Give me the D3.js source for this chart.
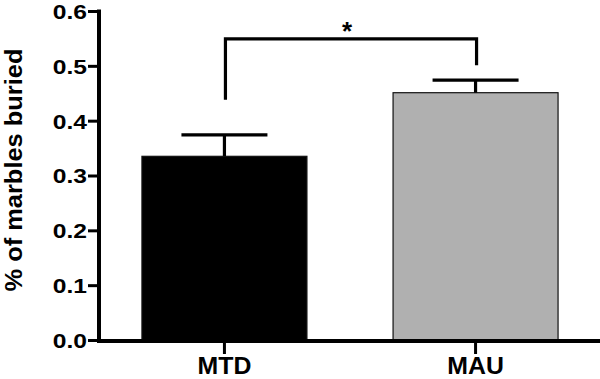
<!DOCTYPE html>
<html>
<head>
<meta charset="utf-8">
<script src="https://cdn.jsdelivr.net/npm/d3@7"></script>
<style>
  html, body { margin: 0; padding: 0; background: #fff; }
  svg { display: block; }
  text { font-family: "Liberation Sans", Arial, sans-serif; font-weight: bold; fill: #000; }
</style>
</head>
<body>
<svg id="chart" width="600" height="379"></svg>
<script>
// ---- data ----
const categories = ["MTD", "MAU"];
const means = [0.335, 0.451];
const sems = [0.039, 0.023];
const barColors = ["#000000", "#b0b0b0"];
const yTicks = [0.0, 0.1, 0.2, 0.3, 0.4, 0.5, 0.6];
const yLabel = "% of marbles buried";
const sigPair = ["MTD", "MAU"];
const sigLevel = 0.549;          // bracket height (data units)
const sigLegEnds = [0.438, 0.501]; // bottom of left / right legs
const sigMark = "*";

// ---- layout ----
const svg = d3.select("#chart");
const x0 = 99, x1 = 601, yBottom = 340, yTop = 11;

const x = d3.scaleBand().domain(categories).range([x0, x1])
  .paddingInner(0.343).paddingOuter(0.171);
const y = d3.scaleLinear().domain([0, 0.6]).range([yBottom, yTop]);

// bars
svg.append("g").selectAll("rect").data(categories).join("rect")
  .attr("x", d => x(d))
  .attr("y", (d, i) => y(means[i]))
  .attr("width", x.bandwidth())
  .attr("height", (d, i) => y(0) - y(means[i]))
  .attr("fill", (d, i) => barColors[i])
  .attr("stroke", "#111")
  .attr("stroke-width", 1.2);

// error bars (upper only)
const eb = svg.append("g").attr("stroke", "#000").attr("stroke-width", 3.2);
categories.forEach((c, i) => {
  const cx = x(c) + x.bandwidth() / 2;
  const top = y(means[i] + sems[i]);
  eb.append("line").attr("x1", cx).attr("x2", cx)
    .attr("y1", top).attr("y2", y(means[i]));
  eb.append("line").attr("x1", cx - 43).attr("x2", cx + 43)
    .attr("y1", top).attr("y2", top);
});

// y axis
const yAxis = svg.append("g").attr("transform", `translate(${x0},0)`)
  .call(d3.axisLeft(y).tickValues(yTicks).tickFormat(d3.format(".1f"))
    .tickSize(11).tickSizeOuter(0).tickPadding(1));
yAxis.select(".domain").attr("stroke", "#000").attr("stroke-width", 4)
  .attr("d", `M0,${yTop - 1.5}V${yBottom + 3}`);
yAxis.selectAll(".tick line").attr("stroke", "#000").attr("stroke-width", 3);
yAxis.selectAll(".tick text")
  .style("font-size", "20.5px").attr("dy", "0.36em")
  .each(function () {
    const w = this.getComputedTextLength();
    d3.select(this).attr("textLength", w * 1.2).attr("lengthAdjust", "spacingAndGlyphs");
  });

// x axis
const xAxis = svg.append("g").attr("transform", `translate(0,${yBottom + 1})`)
  .call(d3.axisBottom(x).tickSize(13).tickSizeOuter(0).tickPadding(4));
xAxis.select(".domain").attr("stroke", "#000").attr("stroke-width", 4)
  .attr("d", `M${x0 - 2},0H600`);
xAxis.selectAll(".tick line").attr("stroke", "#000").attr("stroke-width", 3);
xAxis.selectAll(".tick text")
  .style("font-size", "23px")
  .each(function () {
    const w = this.getComputedTextLength();
    d3.select(this).attr("textLength", w * 1.08).attr("lengthAdjust", "spacingAndGlyphs");
  });

// y label
svg.append("text")
  .attr("transform", `translate(22,${170}) rotate(-90)`)
  .attr("text-anchor", "middle")
  .style("font-size", "24px")
  .attr("textLength", 243).attr("lengthAdjust", "spacingAndGlyphs")
  .text(yLabel);

// significance bracket
const bx1 = x(sigPair[0]) + x.bandwidth() / 2 + 1;
const bx2 = x(sigPair[1]) + x.bandwidth() / 2 + 1;
svg.append("path")
  .attr("d", `M${bx1},${y(sigLegEnds[0])}V${y(sigLevel)}H${bx2}V${y(sigLegEnds[1])}`)
  .attr("fill", "none").attr("stroke", "#000").attr("stroke-width", 3.2);
svg.append("text")
  .attr("x", (bx1 + bx2) / 2 - 4)
  .attr("y", y(sigLevel) + 1)
  .attr("text-anchor", "middle")
  .style("font-size", "26px")
  .text(sigMark);
</script>
</body>
</html>
